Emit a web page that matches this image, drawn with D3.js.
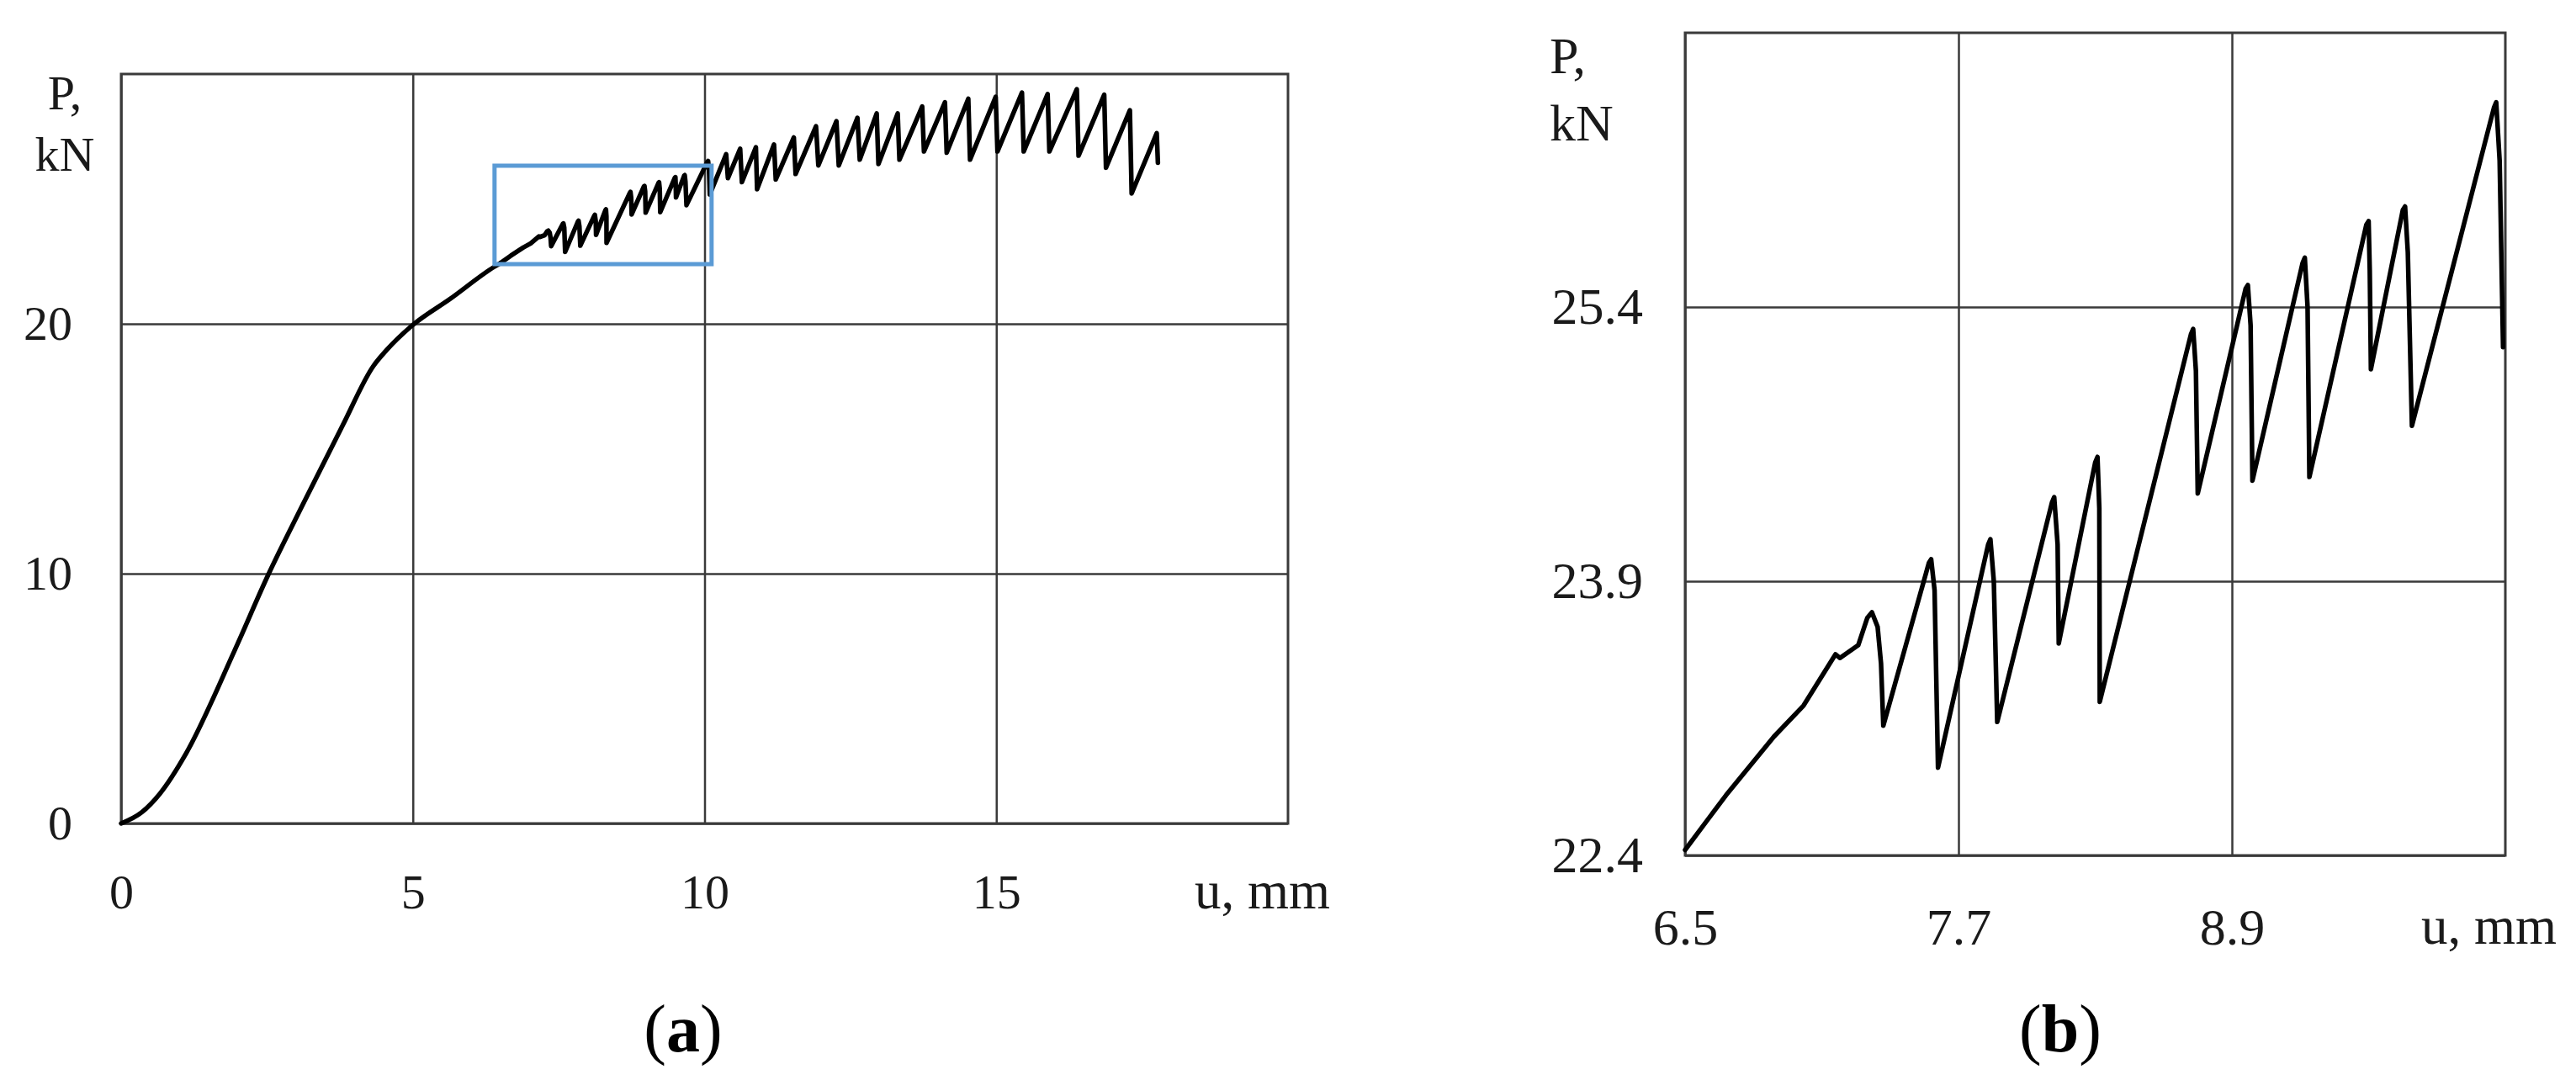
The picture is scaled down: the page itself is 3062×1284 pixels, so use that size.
<!DOCTYPE html>
<html>
<head>
<meta charset="utf-8">
<script src="https://cdn.jsdelivr.net/npm/d3@7/dist/d3.min.js"></script>
<style>
body { margin: 0; background: #fff; }
svg { display: block; background: #fff; font-family: "Liberation Serif", "DejaVu Serif", serif; }
.grid line { stroke: #3a3a3a; stroke-width: 2.5; }
.grid .domain { display: none; }
.grid text { fill: #1a1a1a; font-family: "Liberation Serif", serif; }
.frame { fill: none; stroke: #3a3a3a; stroke-width: 3; }
.curve { fill: none; stroke: #000; stroke-linejoin: round; stroke-linecap: round; }
.zoombox { fill: none; stroke: #5b9bd5; stroke-width: 5; }
.label { fill: #1a1a1a; }
.caption { font-size: 80px; fill: #000; }
</style>
</head>
<body>
<svg width="3062" height="1284"></svg>
<script>
// load P (kN) vs displacement u (mm)
var loadStart = [[0,0],[0.35,0.44],[0.66,1.18],[1.11,2.79],[1.94,6.9],[2.52,9.95],[3.1,12.7],
    [3.8,15.95],[4.32,18.3],[4.55,18.95],[4.97,19.9],[5.64,21.0],[6.4,22.29]];

// the boxed part, taken from the enlarged panel (b)
var loadDetail = [[6.5,22.43],[6.68,22.73],[6.89,23.05],[7.02,23.22],[7.16,23.5],[7.18,23.48],
    [7.26,23.55],[7.3,23.7],[7.32,23.73],[7.345,23.65],[7.36,23.45],[7.37,23.11],[7.57,24.0],[7.58,24.02],
    [7.595,23.85],[7.61,22.88],[7.83,24.1],[7.84,24.13],[7.855,23.9],[7.87,23.13],[8.11,24.33],[8.12,24.36],
    [8.135,24.1],[8.14,23.56],[8.3,24.55],[8.31,24.58],[8.318,24.3],[8.32,23.24],[8.72,25.25],[8.73,25.28],
    [8.742,25.05],[8.75,24.38],[8.96,25.5],[8.97,25.52],[8.982,25.3],[8.99,24.45],[9.21,25.64],[9.22,25.67],
    [9.232,25.4],[9.24,24.47],[9.49,25.85],[9.50,25.87],[9.505,25.6],[9.51,25.06],[9.65,25.93],[9.66,25.95],
    [9.672,25.7],[9.69,24.75],[10.05,26.49],[10.06,26.52],[10.075,26.2],[10.09,25.18]];

var loadTail = [[10.37,26.79],[10.40,25.83],[10.61,27.01],[10.64,25.67],[10.88,27.07],[10.90,25.39],
    [11.19,27.18],[11.22,25.78],[11.53,27.46],[11.56,26.0],[11.91,27.91],[11.95,26.34],[12.26,28.11],
    [12.30,26.34],[12.62,28.25],[12.66,26.57],[12.95,28.42],[12.98,26.4],[13.31,28.42],[13.34,26.57],
    [13.73,28.7],[13.76,26.9],[14.12,28.87],[14.15,26.85],[14.52,29.01],[14.55,26.57],[14.99,29.09],
    [15.02,26.9],[15.44,29.26],[15.47,26.9],[15.88,29.2],[15.91,26.9],[16.38,29.39],[16.41,26.73],
    [16.85,29.17],[16.88,26.25],[17.29,28.55],[17.32,25.22],[17.75,27.63],[17.77,26.45]];

var zoomBox = [6.4, 10.12, 22.39, 26.33];   // u0, u1, P0, P1

var ticksAx = [0, 5, 10, 15], ticksAy = [0, 10, 20];
var ticksBx = [6.5, 7.7, 8.9], ticksBy = [22.4, 23.9, 25.4];

var svg = d3.select("svg");

function panel(o) {
  var x = d3.scaleLinear().domain(o.xDomain).range([o.left, o.right]),
      y = d3.scaleLinear().domain(o.yDomain).range([o.bottom, o.top]);

  var g = svg.append("g");

  g.append("g")
      .attr("class", "grid")
      .attr("transform", "translate(0," + o.bottom + ")")
      .call(d3.axisBottom(x).tickValues(o.xTicks).tickFormat(o.fmt)
        .tickSize(-(o.bottom - o.top)).tickPadding(o.xPad))
      .selectAll("text").style("font-size", o.fs + "px");

  g.append("g")
      .attr("class", "grid")
      .attr("transform", "translate(" + o.left + ",0)")
      .call(d3.axisLeft(y).tickValues(o.yTicks).tickFormat(o.fmt)
        .tickSize(-(o.right - o.left)).tickPadding(o.yPad))
      .selectAll("text").style("font-size", o.fs + "px");

  g.append("rect")
      .attr("class", "frame")
      .attr("x", o.left).attr("y", o.top)
      .attr("width", o.right - o.left).attr("height", o.bottom - o.top);

  var smooth = d3.line()
      .curve(d3.curveMonotoneX)
      .x(function(d) { return x(d[0]); })
      .y(function(d) { return y(d[1]); });
  var line = d3.line()
      .x(function(d) { return x(d[0]); })
      .y(function(d) { return y(d[1]); });

  if (o.start) {
    g.append("path")
        .datum(o.start.concat([o.data[0]]))
        .attr("class", "curve")
        .attr("stroke-width", o.lw)
        .attr("d", smooth);
  }
  g.append("path")
      .datum(o.data)
      .attr("class", "curve")
      .attr("stroke-width", o.lw)
      .attr("d", line);

  if (o.box) {
    g.append("rect")
        .attr("class", "zoombox")
        .attr("x", x(o.box[0])).attr("y", y(o.box[3]))
        .attr("width", x(o.box[1]) - x(o.box[0]))
        .attr("height", y(o.box[2]) - y(o.box[3]));
  }

  // axis names
  g.append("text").attr("class", "label").style("font-size", o.fs + "px")
      .attr("x", o.pX).attr("y", o.pY).attr("text-anchor", o.pAnchor).text("P,");
  g.append("text").attr("class", "label").style("font-size", o.fs + "px")
      .attr("x", o.kX).attr("y", o.pY + o.pGap).attr("text-anchor", o.pAnchor).text("kN");
  g.append("text").attr("class", "label").style("font-size", "63px")
      .attr("x", o.uX).attr("y", o.bottom + o.uDy).text("u, mm");

  var cap = g.append("text").attr("class", "caption")
      .attr("x", o.capX).attr("y", 1250).attr("text-anchor", "middle");
  cap.append("tspan").text("(");
  cap.append("tspan").attr("font-weight", "bold").text(o.cap);
  cap.append("tspan").text(")");
}

panel({
  left: 144, right: 1531, top: 88, bottom: 979,
  xDomain: [0, 20], yDomain: [0, 30],
  xTicks: ticksAx, yTicks: ticksAy, fmt: d3.format("d"), fs: 58, xPad: 60, yPad: 58,
  start: loadStart, data: loadDetail.concat(loadTail), lw: 5.5, box: zoomBox,
  pX: 77, kX: 77, pY: 130, pGap: 73, pAnchor: "middle",
  uX: 1420, uDy: 101, capX: 812, cap: "a"
});

panel({
  left: 2003, right: 2978, top: 39, bottom: 1017,
  xDomain: [6.5, 10.1], yDomain: [22.4, 26.9],
  xTicks: ticksBx, yTicks: ticksBy, fmt: d3.format(".1f"), fs: 62, xPad: 62, yPad: 50,
  start: null, data: loadDetail, lw: 5.5, box: null,
  pX: 1842, kX: 1842, pY: 87, pGap: 80, pAnchor: "start",
  uX: 2878, uDy: 105, capX: 2449, cap: "b"
});
</script>
</body>
</html>
